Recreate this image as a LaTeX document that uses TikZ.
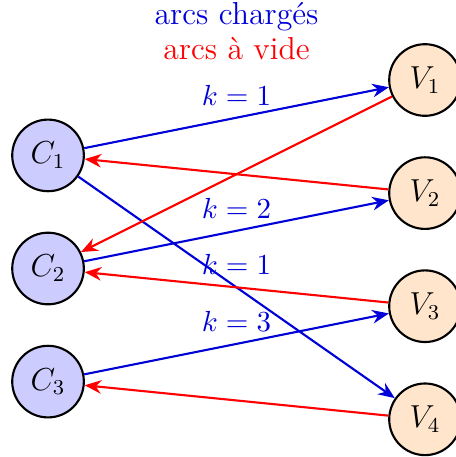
\documentclass[tikz,border=0pt]{standalone}
\usetikzlibrary{arrows.meta}

\begin{document}
\begin{tikzpicture}[x=1cm,y=1cm,>={Stealth[length=2.2mm,width=1.8mm]},
  cnode/.style={circle,draw,thick,fill=blue!20,minimum size=0.95cm,inner sep=0pt,font=\large},
  vnode/.style={circle,draw,thick,fill=orange!20,minimum size=0.95cm,inner sep=0pt,font=\large},
  charge/.style={->,blue!85!black,line width=0.8pt},
  vide/.style={->,red,line width=0.8pt},
  klab/.style={above=1pt,midway,text=blue!85!black,font=\fontsize{11}{13}\selectfont}]
\useasboundingbox (-0.637,-5.0) rectangle (5.41,1.061);
% legende
\node[text=blue!85!black,font=\large] (leg1) at (2.5,0.84) {arcs chargés};
\node[text=red,font=\large] (leg2) at (2.5,0.42) {arcs à vide};
% noeuds
\node[cnode] (C1) at (0,-1) {$C_1$};
\node[cnode] (C2) at (0,-2.5) {$C_2$};
\node[cnode] (C3) at (0,-4) {$C_3$};
\node[vnode] (V1) at (5,0) {$V_1$};
\node[vnode] (V2) at (5,-1.5) {$V_2$};
\node[vnode] (V3) at (5,-3) {$V_3$};
\node[vnode] (V4) at (5,-4.5) {$V_4$};
% arcs charges
\draw[charge] (C1) -- node[klab] {$k=1$} (V1);
\draw[charge] (C2) -- node[klab] {$k=2$} (V2);
\draw[charge] (C1) -- node[klab] {$k=1$} (V4);
\draw[charge] (C3) -- node[klab] {$k=3$} (V3);
% arcs a vide
\draw[vide] (V1) -- (C2);
\draw[vide] (V2) -- (C1);
\draw[vide] (V3) -- (C2);
\draw[vide] (V4) -- (C3);
\end{tikzpicture}
\end{document}
